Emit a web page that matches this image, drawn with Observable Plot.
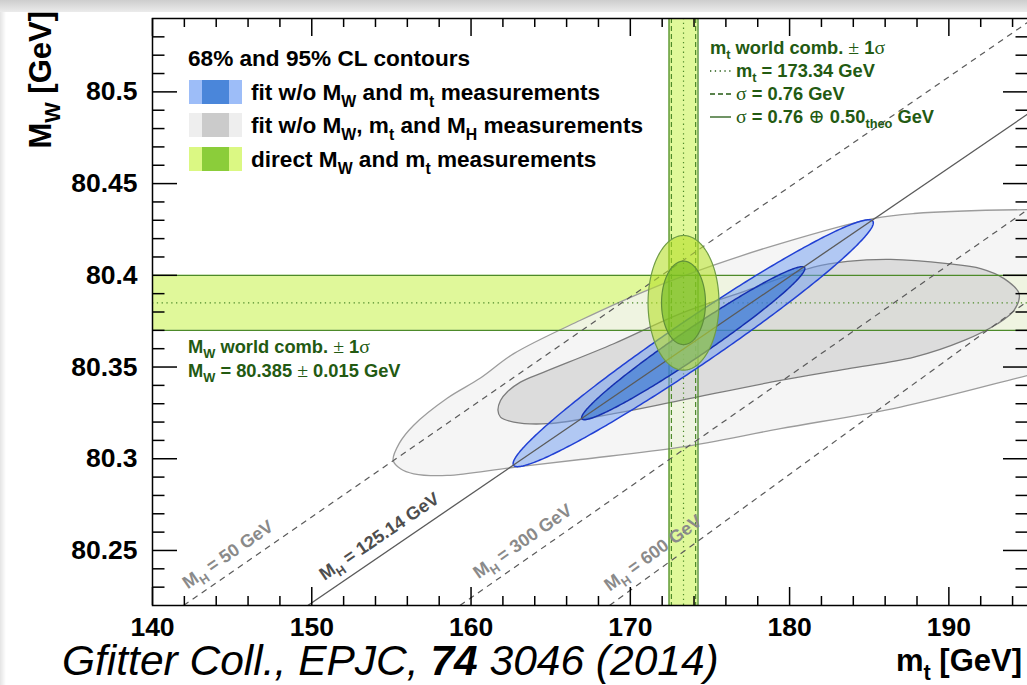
<!DOCTYPE html>
<html>
<head>
<meta charset="utf-8">
<script src="https://cdn.jsdelivr.net/npm/d3@7"></script>
<script src="https://cdn.jsdelivr.net/npm/@observablehq/plot@0.6"></script>
<style>
  html, body { margin: 0; padding: 0; background: #fff; overflow: hidden; width: 1027px; height: 685px; }
  #wrap { position: relative; width: 1027px; height: 685px; overflow: hidden; }
  #chart { position: absolute; left: 0; top: 0; width: 1029px; }
  #topbar { position: absolute; left: 0; top: 0; width: 1027px; height: 12px; background: linear-gradient(#cdcdcd, #ebebeb); }
  #leftbar { position: absolute; left: 0; top: 12px; width: 6px; height: 673px; background: linear-gradient(90deg, #e4e4e4, #ffffff); }
</style>
</head>
<body>
<div id="wrap"><div id="chart"></div><div id="topbar"></div><div id="leftbar"></div></div>
<script>
// ---- axes -------------------------------------------------------------
const mtDomain = [140, 195];
const mwDomain = [80.22, 80.54];
const mtMajorTicks = [140, 150, 160, 170, 180, 190];
const mtMinorTicks = [142, 144, 146, 148, 152, 154, 156, 158, 162, 164, 166, 168, 172, 174, 176, 178, 182, 184, 186, 188, 192, 194];
const mwMajorTicks = [80.25, 80.30, 80.35, 80.40, 80.45, 80.50];
const mwTickLabels = ["80.25", "80.3", "80.35", "80.4", "80.45", "80.5"];
const mwMinorTicks = [80.23, 80.24, 80.26, 80.27, 80.28, 80.29, 80.31, 80.32, 80.33, 80.34, 80.36, 80.37, 80.38, 80.39,
                      80.41, 80.42, 80.43, 80.44, 80.46, 80.47, 80.48, 80.49, 80.51, 80.52, 80.53];

// ---- direct measurements (world combinations) --------------------------
const mtWorld = 173.34, mtExpErr = 0.76, mtTheoErr = 0.50;
const mwWorld = 80.385, mwErr = 0.015;
const mtTotErr = Math.hypot(mtExpErr, mtTheoErr);

// ---- 2D confidence levels (68% and 95% CL) -----------------------------
const clNames = ["68%", "95%"];
const clDeltaChi2 = [2.30, 5.99];

// ---- fit without MW and mt measurements (gaussian approximation) -------
const fitCenter = [173.95, 80.363];
const fitSigma = [4.62, 0.0275];
const fitRho = 0.975;

// ---- fit without MW, mt and MH measurements (scanned contours) ---------
const noMhOuter95 = [
  [155.11, 80.2991], [155.57, 80.2945], [156.40, 80.2918], [158.50, 80.2909], [162.47, 80.2951],
  [166.87, 80.2996], [173.15, 80.3063], [179.42, 80.3164], [186.96, 80.3282], [194.93, 80.3454],
  [197.00, 80.3498], [199.51, 80.3564], [202.65, 80.3673], [204.85, 80.3836], [205.79, 80.4000],
  [205.47, 80.4136], [203.90, 80.4256], [201.39, 80.4327], [198.25, 80.4355], [194.93, 80.4358],
  [187.82, 80.4337], [185.24, 80.4309], [179.42, 80.4173], [175.24, 80.4055], [171.05, 80.3918],
  [166.87, 80.3755], [162.68, 80.3573], [160.59, 80.3440], [158.50, 80.3330], [156.40, 80.3183],
  [155.50, 80.3085]
];
const noMhInner68 = [
  [161.69, 80.3264], [161.85, 80.3227], [162.68, 80.3200], [164.78, 80.3191], [168.96, 80.3246],
  [173.15, 80.3318], [179.42, 80.3427], [183.63, 80.3490], [187.82, 80.3554], [190.96, 80.3645],
  [193.05, 80.3736], [194.09, 80.3809], [194.41, 80.3900], [193.47, 80.3982], [192.00, 80.4037],
  [189.91, 80.4064], [186.35, 80.4087], [183.63, 80.4076], [181.51, 80.4045], [177.33, 80.3918],
  [173.15, 80.3791], [168.96, 80.3627], [164.54, 80.3471], [163.10, 80.3418], [162.27, 80.3364],
  [161.85, 80.3318]
];

// ---- lines of constant Higgs mass --------------------------------------
const higgsMass = ["50", "125.14", "300", "600"];
const higgsFrom = [[141.95, 80.22], [149.75, 80.22], [159.30, 80.22], [168.69, 80.22]];
const higgsTo = [[195.30, 80.54], [195.00, 80.4882], [195.00, 80.4361], [195.00, 80.3863]];
const higgsMeasured = [false, true, false, false];
const higgsLabelMt = [145.3, 154.8, 163.8, 172.0];

// ---- text --------------------------------------------------------------
const legendTitle = "68% and 95% CL contours";
const legendLabels = [
  "fit w/o M_{W} and m_{t} measurements",
  "fit w/o M_{W}, m_{t} and M_{H} measurements",
  "direct M_{W} and m_{t} measurements"
];
const mtBandLabels = [
  "m_{t} world comb. $±$ 1$σ$",
  "m_{t} = 173.34 GeV",
  "$σ$ = 0.76 GeV",
  "$σ$ = 0.76 $⊕$ 0.50_{theo} GeV"
];
const mwBandLabels = ["M_{W} world comb. $±$ 1$σ$", "M_{W} = 80.385 $±$ 0.015 GeV"];

// ---- styling -----------------------------------------------------------
const FONT = "'Liberation Sans', Arial, Helvetica, sans-serif";
const SYM = "'Liberation Serif', 'DejaVu Serif', serif";
const GREEN_TEXT = "#235a12";
const BAND_LINE = "#4d8a2a";
const W = 1029, H = 685, mL = 152, mR = 1, mT = 18, mB = 80;
const pxPerMt = (W - mR - mL) / (mtDomain[1] - mtDomain[0]);
const pxPerMw = (H - mB - mT) / (mwDomain[1] - mwDomain[0]);
const HIGGS_FONT = 18;
const TICK_FONT = 26.5;

// gaussian 2D contour for a given delta chi2
function gaussContour([mx, my], [sx, sy], rho, dchi2) {
  const k = Math.sqrt(dchi2), s = Math.sqrt(1 - rho * rho);
  return d3.range(0, 360, 1).map(a => {
    const t = a * Math.PI / 180;
    return {mt: mx + k * sx * Math.cos(t), mw: my + k * sy * (rho * Math.cos(t) + s * Math.sin(t))};
  });
}

const fit95 = gaussContour(fitCenter, fitSigma, fitRho, clDeltaChi2[1]);
const fit68 = gaussContour(fitCenter, fitSigma, fitRho, clDeltaChi2[0]);
const direct95 = gaussContour([mtWorld, mwWorld], [mtTotErr, mwErr], 0, clDeltaChi2[1]);
const direct68 = gaussContour([mtWorld, mwWorld], [mtTotErr, mwErr], 0, clDeltaChi2[0]);

const higgsLines = higgsMass.map((m, i) => {
  const [x1, y1] = higgsFrom[i], [x2, y2] = higgsTo[i];
  const lx = higgsLabelMt[i];
  return {
    mass: m, x1, y1, x2, y2, measured: higgsMeasured[i],
    lx, ly: y1 + (lx - x1) * (y2 - y1) / (x2 - x1),
    angle: -Math.atan2((y2 - y1) * pxPerMw, (x2 - x1) * pxPerMt) * 180 / Math.PI
  };
});

const mtBand = [{lo: mtWorld - mtTotErr, hi: mtWorld + mtTotErr}];
const mwBand = [{lo: mwWorld - mwErr, hi: mwWorld + mwErr}];
const P = d => d[0], Q = d => d[1];
const mwLo = () => mwDomain[0], mwHi = () => mwDomain[1];
const mtLo = () => mtDomain[0], mtHi = () => mtDomain[1];

const tickStyle = {stroke: "#000", strokeWidth: 1.5};
const xTicks = (vals, len) => [
  Plot.ruleX(vals, {x: d => d, y1: mwLo, y2: () => mwDomain[0] + len / pxPerMw, ...tickStyle}),
  Plot.ruleX(vals, {x: d => d, y1: () => mwDomain[1] - len / pxPerMw, y2: mwHi, ...tickStyle})
];
const yTicks = (vals, len) => [
  Plot.ruleY(vals, {y: d => d, x1: mtLo, x2: () => mtDomain[0] + len / pxPerMt, ...tickStyle}),
  Plot.ruleY(vals, {y: d => d, x1: () => mtDomain[1] - len / pxPerMt, x2: mtHi, ...tickStyle})
];

const chart = Plot.plot({
  width: W, height: H,
  marginLeft: mL, marginRight: mR, marginTop: mT, marginBottom: mB,
  x: {domain: mtDomain, axis: null},
  y: {domain: mwDomain, axis: null},
  style: {fontFamily: FONT, maxWidth: "none", background: "transparent", overflow: "visible"},
  marks: [
    // world-average bands
    Plot.rect(mtBand, {x1: "lo", x2: "hi", y1: mwLo, y2: mwHi, fill: "#e0f89a"}),
    Plot.rect(mwBand, {x1: mtLo, x2: mtHi, y1: "lo", y2: "hi", fill: "#e0f89a"}),

    // fit without MW, mt, MH
    Plot.line(noMhOuter95, {x: P, y: Q, curve: "catmull-rom-closed", fill: "#f3f3f3", fillOpacity: 0.8,
      stroke: "#9c9c9c", strokeWidth: 1.3, clip: true}),
    Plot.line(noMhInner68, {x: P, y: Q, curve: "catmull-rom-closed", fill: "#d6d6d6", fillOpacity: 0.8,
      stroke: "#7c7c7c", strokeWidth: 1.3, clip: true}),

    // band edges and central values
    Plot.ruleX([mtWorld - mtTotErr, mtWorld + mtTotErr], {stroke: BAND_LINE, strokeWidth: 1.3}),
    Plot.ruleX([mtWorld - mtExpErr, mtWorld + mtExpErr], {stroke: BAND_LINE, strokeWidth: 1.2, strokeDasharray: "5,3"}),
    Plot.ruleX([mtWorld], {stroke: BAND_LINE, strokeWidth: 1.2, strokeDasharray: "1.3,3.5"}),
    Plot.ruleY([mwWorld - mwErr, mwWorld + mwErr], {stroke: BAND_LINE, strokeWidth: 1.3}),
    Plot.ruleY([mwWorld], {stroke: BAND_LINE, strokeWidth: 1.2, strokeDasharray: "1.3,3.5"}),

    // fit without MW and mt
    Plot.line(fit95, {x: "mt", y: "mw", curve: "linear-closed", fill: "#6d9cf2", fillOpacity: 0.5,
      stroke: "#2140d4", strokeWidth: 1.5, clip: true}),
    Plot.line(fit68, {x: "mt", y: "mw", curve: "linear-closed", fill: "#2f72d0", fillOpacity: 0.6,
      stroke: "#1530b0", strokeWidth: 1.5, clip: true}),

    // constant Higgs-mass lines
    Plot.link(higgsLines.filter(d => !d.measured), {x1: "x1", y1: "y1", x2: "x2", y2: "y2",
      stroke: "#5a5a5a", strokeWidth: 1.2, strokeDasharray: "6,5", clip: true}),
    Plot.link(higgsLines.filter(d => d.measured), {x1: "x1", y1: "y1", x2: "x2", y2: "y2",
      stroke: "#5a5a5a", strokeWidth: 1.3, clip: true}),

    // direct measurements
    Plot.line(direct95, {x: "mt", y: "mw", curve: "linear-closed", fill: "#b5e02a", fillOpacity: 0.6,
      stroke: "#6f9c46", strokeWidth: 1.2}),
    Plot.line(direct68, {x: "mt", y: "mw", curve: "linear-closed", fill: "#6cb81e", fillOpacity: 0.6,
      stroke: "#5f8f3a", strokeWidth: 1.2}),

    // Higgs-mass labels
    Plot.text(higgsLines, {x: "lx", y: "ly", rotate: "angle", text: d => `M_{H} = ${d.mass} GeV`,
      fill: d => d.measured ? "#4e4e4e" : "#8a8a8a", fontSize: HIGGS_FONT, fontWeight: "bold",
      dx: -9, dy: -14, textAnchor: "middle"}),

    // frame, ticks and tick labels
    Plot.frame({stroke: "#000", strokeWidth: 1.5}),
    ...xTicks(mtMajorTicks, 18), ...xTicks(mtMinorTicks, 9),
    ...yTicks(mwMajorTicks, 25), ...yTicks(mwMinorTicks, 12.5),
    Plot.text(mtMajorTicks, {x: d => d, y: mwLo, text: d => String(d), dy: 30, lineAnchor: "bottom",
      fontSize: TICK_FONT, fontWeight: "bold", fill: "#000"}),
    Plot.text(mwMajorTicks, {x: mtLo, y: d => d, text: (d, i) => mwTickLabels[i], dx: -15, textAnchor: "end",
      lineAnchor: "middle", fontSize: TICK_FONT, fontWeight: "bold", fill: "#000"})
  ]
});
document.getElementById("chart").appendChild(chart);

// rich text: _{...} subscript, $...$ symbol font
function rich(text, str, size) {
  text.text(null);
  const re = /_\{([^}]*)\}|\$([^$]*)\$|([^_$]+)/g;
  let m, shift = 0;
  while ((m = re.exec(str)) !== null) {
    const t = text.append("tspan");
    if (m[1] !== undefined) {
      t.attr("dy", 0.3 * size - shift).attr("font-size", 0.7 * size).text(m[1]);
      shift = 0.3 * size;
    } else {
      if (shift) t.attr("dy", -shift);
      shift = 0;
      if (m[2] !== undefined) t.attr("font-family", SYM).attr("font-weight", "normal").attr("font-size", 1.08 * size).text(m[2]);
      else t.text(m[3]);
    }
  }
  return text;
}

const svg = d3.select(chart);
svg.selectAll("text").each(function () {
  const s = this.textContent;
  if (s.includes("_{")) rich(d3.select(this), s, HIGGS_FONT);
});

const ann = svg.append("g").attr("font-family", FONT).attr("font-weight", "bold").attr("text-anchor", "start");
const label = (x, y, str, size, fill, attrs = {}) => {
  const t = ann.append("text").attr("x", x).attr("y", y).attr("font-size", size).attr("fill", fill);
  for (const k in attrs) t.attr(k, attrs[k]);
  return rich(t, str, size);
};

// legend of contours
label(188, 66, legendTitle, 22.6, "#000");
const swatchColors = [["#9dbdf8", "#4a86da"], ["#eeeeee", "#cbcbcb"], ["#dbf883", "#8bcd3a"]];
const rowTop = [80, 113, 147];
legendLabels.forEach((s, i) => {
  const [light, dark] = swatchColors[i];
  ann.append("rect").attr("x", 189).attr("y", rowTop[i]).attr("width", 53).attr("height", 24).attr("fill", light);
  ann.append("rect").attr("x", 202).attr("y", rowTop[i]).attr("width", 27).attr("height", 24).attr("fill", dark);
  label(251, rowTop[i] + 20, s, 22.6, "#000");
});

// mt world combination
label(710, 54, mtBandLabels[0], 18.3, GREEN_TEXT);
const sampleDash = ["1.3,3.5", "5,3", null];
mtBandLabels.slice(1).forEach((s, i) => {
  const y = 77 + 23 * i;
  const l = ann.append("line").attr("x1", 710).attr("x2", 731).attr("y1", y - 6).attr("y2", y - 6)
    .attr("stroke", GREEN_TEXT).attr("stroke-width", 1.3);
  if (sampleDash[i]) l.attr("stroke-dasharray", sampleDash[i]);
  label(736, y, s, 18.3, GREEN_TEXT);
});

// MW world combination
label(188, 353, mwBandLabels[0], 18.3, GREEN_TEXT);
label(188, 377, mwBandLabels[1], 18.3, GREEN_TEXT);

// axis titles
label(1022, 671, "m_{t} [GeV]", 31, "#000", {"text-anchor": "end"});
label(0, 0, "M_{W} [GeV]", 31, "#000", {"text-anchor": "end", transform: "translate(51,11) rotate(-90)"});

// reference
const cap = ann.append("text").attr("x", 62).attr("y", 675).attr("font-size", 42.5)
  .attr("font-style", "italic").attr("font-weight", "normal").attr("fill", "#000");
cap.append("tspan").text("Gfitter Coll., EPJC, ");
cap.append("tspan").attr("font-weight", "bold").text("74");
cap.append("tspan").text(" 3046 (2014)");
</script>
</body>
</html>
